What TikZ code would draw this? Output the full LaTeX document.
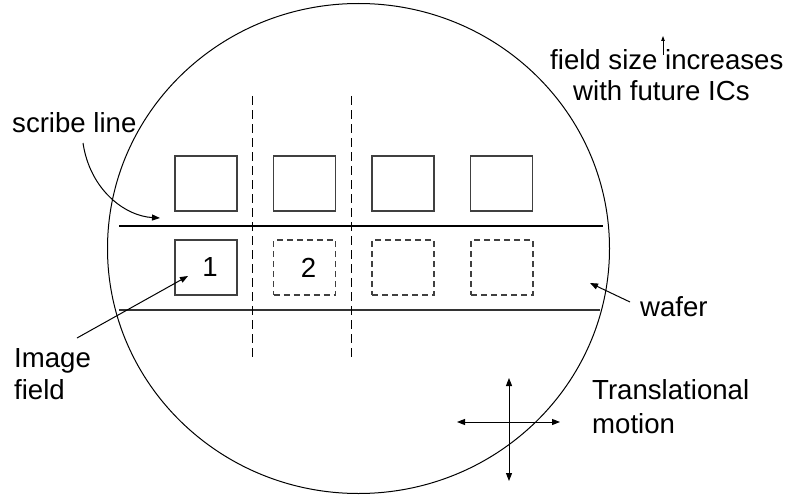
\documentclass[tikz,border=0pt]{standalone}
\usepackage{fontspec}
\setmainfont{Liberation Sans}
\usetikzlibrary{arrows.meta,shapes.geometric}

\begin{document}
\begin{tikzpicture}[x=1pt,y=-1pt,
  lbl/.style={anchor=base west, inner sep=0pt, font=\fontsize{27.6}{32}\selectfont},
  num/.style={inner sep=0pt, font=\fontsize{27.6}{32}\selectfont},
  die/.style={draw=black!75, line width=1.2pt, minimum width=62pt, minimum height=55pt, inner sep=0pt},
  nextdie/.style={die, dash pattern=on 6pt off 4pt},
  scribe/.style={line width=1.1pt},
  street/.style={line width=1pt, dash pattern=on 9pt off 5pt},
  ptr/.style={line width=1pt, -{Triangle[length=8pt,width=6pt]}},
  move/.style={line width=1pt, {Triangle[length=8pt,width=6pt]}-{Triangle[length=8pt,width=6pt]}},
]
\useasboundingbox (0,0) rectangle (793,495);

% wafer outline
\node[draw, line width=1pt, ellipse, minimum width=502pt, minimum height=490pt, inner sep=0pt] (wafer) at (358.5,248.5) {};

% horizontal scribe lines
\draw[scribe] (119,226) -- (603,226);
\draw[scribe, black!80] (119,310) -- (600,310);

% vertical scribe lines (dashed)
\draw[street] (252,96) -- (252,358);
\draw[street] (351,96) -- (351,358);

% exposed fields, upper row
\node[die] (a1) at (206,183.5) {};
\node[die] (a2) at (304.5,183.5) {};
\node[die] (a3) at (403,183.5) {};
\node[die] (a4) at (501.5,183.5) {};

% current row: field 1 exposed, next fields pending
\node[die] (f1) at (206,267.5) {};
\node[nextdie] (f2) at (304.5,267.5) {};
\node[nextdie] (f3) at (403,267.5) {};
\node[nextdie] (f4) at (502,267.5) {};
\node[num] (n1) at ([xshift=4pt]f1.center) {1};
\node[num] (n2) at ([xshift=4pt]f2.center) {2};

% labels
\node[lbl] (scribelbl) at (12,132) {scribe line};
\node[lbl] (imglbl) at (14,367) {Image};
\node[lbl] (fieldlbl) at (14,399) {field};
\node[lbl] (waferlbl) at (640,316) {wafer};
\node[lbl] (translbl) at (592,399) {Translational};
\node[lbl] (motionlbl) at (592,433) {motion};
\node[lbl] (sizelbl) at (550,70) {field size increases};
\node[lbl] (futurelbl) at (573,101) {with future ICs};

% pointers
\coordinate (scribeStart) at (83,143);
\coordinate (scribeTip) at (160,218);
\draw[ptr] (scribeStart) .. controls (90,190) and (125,216) .. (scribeTip);

\coordinate (imgStart) at (77,338);
\coordinate (imgTip) at (188,276);
\draw[ptr] (imgStart) -- (imgTip);

\coordinate (waferStart) at (630,302);
\coordinate (waferTip) at (590,283);
\draw[ptr] (waferStart) -- (waferTip);

% growth marker between "size" and "increases"
\coordinate (growBase) at (663,55);
\coordinate (growTip) at (663,36);
\draw[line width=0.8pt, -{Triangle[length=5pt,width=3.5pt]}] (growBase) -- (growTip);

% stage motion cross
\coordinate (up) at (509,378);
\coordinate (down) at (509,481);
\coordinate (left) at (457,422);
\coordinate (right) at (560,422);
\draw[move] (up) -- (down);
\draw[move] (left) -- (right);
\end{tikzpicture}
\end{document}
